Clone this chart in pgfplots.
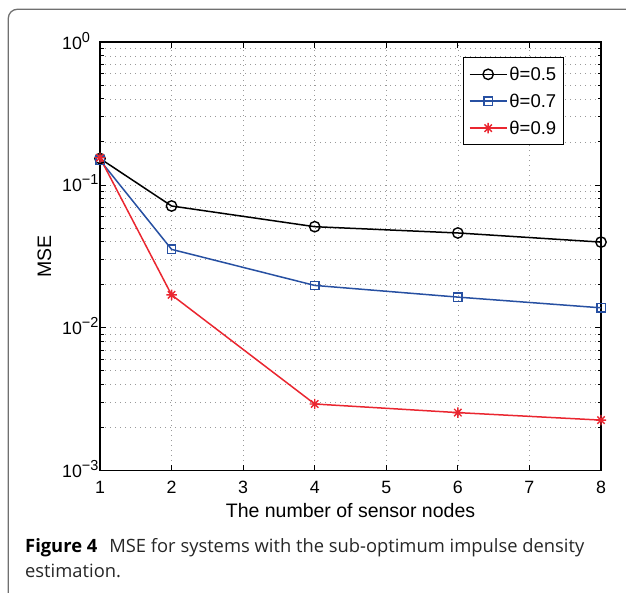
\documentclass[border=0pt]{standalone}
\usepackage{pgfplots}
\pgfplotsset{compat=1.18}
\usepackage{fontspec}
\setmainfont{Liberation Sans}
\newfontfamily\hv{Liberation Sans}
\newfontfamily\capfont{Open Sans}
\definecolor{mblue}{HTML}{2750A2}
\definecolor{mred}{HTML}{EA2630}
\definecolor{framegray}{HTML}{707070}
\pgfdeclareplotmark{mstar}{%
  \pgfpathmoveto{\pgfqpoint{-\pgfplotmarksize}{0pt}}\pgfpathlineto{\pgfqpoint{\pgfplotmarksize}{0pt}}%
  \pgfpathmoveto{\pgfqpoint{0pt}{-\pgfplotmarksize}}\pgfpathlineto{\pgfqpoint{0pt}{\pgfplotmarksize}}%
  \pgfpathmoveto{\pgfqpoint{-0.707\pgfplotmarksize}{-0.707\pgfplotmarksize}}\pgfpathlineto{\pgfqpoint{0.707\pgfplotmarksize}{0.707\pgfplotmarksize}}%
  \pgfpathmoveto{\pgfqpoint{-0.707\pgfplotmarksize}{0.707\pgfplotmarksize}}\pgfpathlineto{\pgfqpoint{0.707\pgfplotmarksize}{-0.707\pgfplotmarksize}}%
  \pgfusepathqstroke}
\newcommand\tenexp[1]{10\raisebox{7pt}{\fontsize{14.5}{15}\selectfont #1}}
\pgfplotstableread{
x y
1 0.153
2 0.0712
4 0.0510
6 0.0461
8 0.0398
}\tA
\pgfplotstableread{
x y
1 0.149
2 0.0354
4 0.0198
6 0.0164
8 0.0138
}\tB
\pgfplotstableread{
x y
1 0.155
2 0.0170
4 0.00293
6 0.00255
8 0.00226
}\tC
\begin{document}
\begin{tikzpicture}
\useasboundingbox (0pt,0pt) rectangle (626pt,592pt);
\begin{scope}
\clip (0pt,0pt) rectangle (626pt,592pt);
\draw[framegray, line width=1.3pt, rounded corners=9pt] (8.3pt,-30pt) -- (8.3pt,582.7pt) -- (660pt,582.7pt);
\end{scope}
\begin{axis}[
  at={(100pt,121.3pt)}, anchor=south west,
  scale only axis, width=501pt, height=428.7pt,
  xmin=1, xmax=8, ymin=1e-3, ymax=1, ymode=log,
  xtick={1,2,3,4,5,6,7,8},
  xticklabels={1,2,3,4,5,6,7,8},
  ytick={1e-3,1e-2,1e-1,1},
  yticklabels={\tenexp{−3},\tenexp{−2},\tenexp{−1},\tenexp{0}},
  tick label style={font=\hv\fontsize{17.8}{20}\selectfont},
  xticklabel style={anchor=north, inner sep=0pt, yshift=-10pt},
  yticklabel style={anchor=base west, inner sep=0pt, xshift=-38pt, yshift=-7pt},
  tick align=inside,
  major tick length=6pt, minor tick length=3.5pt,
  every tick/.style={black, line width=0.8pt},
  axis line style={line width=1.2pt},
  grid=both,
  major grid style={black!40, line width=0.7pt, dash pattern=on 1pt off 4pt},
  minor grid style={black!40, line width=0.7pt, dash pattern=on 1pt off 4pt},
  xlabel={The number of sensor nodes},
  ylabel={MSE},
  label style={font=\hv\fontsize{19.5}{22}\selectfont},
  xlabel style={at={(axis description cs:0.5,0)}, anchor=base, inner sep=0pt, yshift=-46.3pt},
  ylabel style={at={(axis description cs:-0.0978,0.5)}, anchor=base, inner sep=0pt},
  legend style={at={(0.9267,0.9643)}, anchor=north east, draw=black, line width=1.1pt,
    font=\hv\fontsize{18.5}{21}\selectfont, inner xsep=5.5pt, inner ysep=7pt,
    row sep=8pt, nodes={inner sep=2pt}},
  legend cell align=left,
  legend image code/.code={\draw[mark repeat=2,mark phase=2,#1] plot coordinates {(0pt,0pt)(18.5pt,0pt)(37pt,0pt)};},
]
\addplot[black, line width=1.5pt, mark=o, mark size=5.2pt, mark options={line width=1.4pt}] table[x=x,y=y]{\tA};
\addlegendentry{θ=0.5}
\addplot[mblue, line width=1.5pt, mark=square, mark size=4.2pt, mark options={line width=1.4pt}] table[x=x,y=y]{\tB};
\addlegendentry{θ=0.7}
\addplot[mred, line width=1.5pt, mark=mstar, mark size=5.2pt, mark options={line width=1.4pt}] table[x=x,y=y]{\tC};
\addlegendentry{θ=0.9}
\end{axis}
\node[anchor=base west, inner sep=0pt, font=\capfont\fontsize{18.35}{22}\selectfont, text=black!85] at (25pt,40pt) {\textbf{\color{black}Figure 4}\hspace{12pt}MSE for systems with the sub-optimum impulse density};
\node[anchor=base west, inner sep=0pt, font=\capfont\fontsize{18.35}{22}\selectfont, text=black!85] at (25pt,15pt) {estimation.};
\end{tikzpicture}
\end{document}
